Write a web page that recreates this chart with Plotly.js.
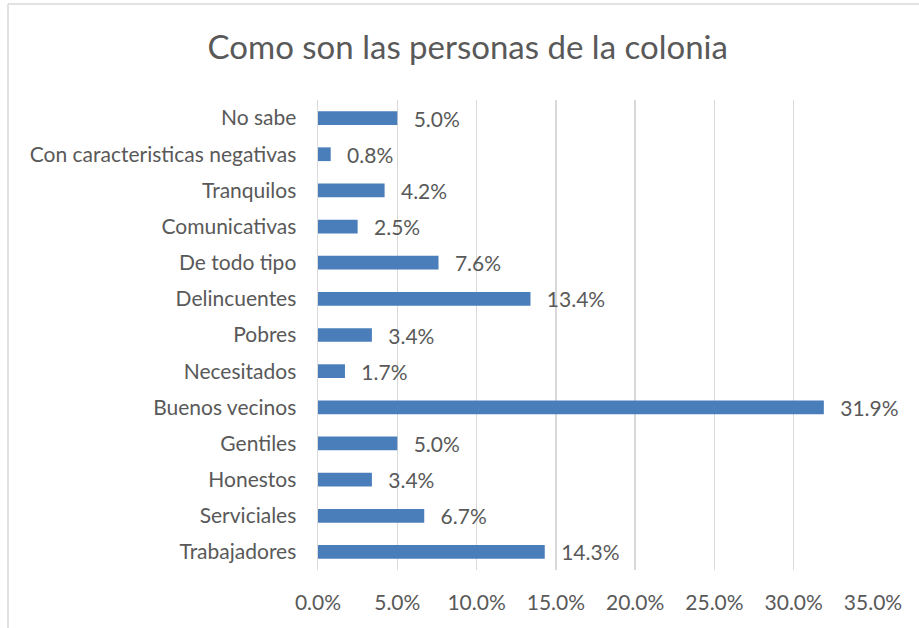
<!DOCTYPE html>
<html>
<head>
<meta charset="utf-8">
<script src="https://cdn.plot.ly/plotly-3.0.1.min.js"></script>
<style>html,body{margin:0;padding:0;background:#fff;}#chart{width:919px;height:628px;}</style>
</head>
<body>
<div id="chart"></div>
<script>
const categories = ["Trabajadores","Serviciales","Honestos","Gentiles","Buenos vecinos","Necesitados","Pobres","Delincuentes","De todo tipo","Comunicativas","Tranquilos","Con caracteristicas negativas","No sabe"];
const values = [14.3, 6.7, 3.4, 5.0, 31.9, 1.7, 3.4, 13.4, 7.6, 2.5, 4.2, 0.8, 5.0];
const tickVals = [0,5,10,15,20,25,30,35];
const tickText = tickVals.map(v => v.toFixed(1) + "%");
const labels = values.map(v => "  \u2009" + v.toFixed(1) + "%");

const font = "Lato, Open Sans, sans-serif";
const L = 318, R = 873, T = 100, B = 570;
Plotly.newPlot("chart", [{
  type: "bar",
  orientation: "h",
  y: categories,
  x: values,
  width: 0.38,
  marker: {color: "#4a7ebb"},
  text: labels,
  textposition: "outside",
  constraintext: "none",
  cliponaxis: false,
  textfont: {family: font, size: 21, color: "#595959"},
  hoverinfo: "none"
}], {
  width: 919, height: 628,
  margin: {l: L, r: 919 - R, t: T, b: 628 - B},
  paper_bgcolor: "#fff", plot_bgcolor: "#fff",
  showlegend: false,
  title: {text: "Como son las personas de la colonia", x: 0.509, xanchor: "center", y: 0.925, yanchor: "middle",
          font: {family: font, size: 33, color: "#595959"}},
  xaxis: {range: [0, 35], tickvals: tickVals, ticktext: tickText, showgrid: true, gridcolor: "#d9d9d9", gridwidth: 1.5,
          zeroline: false, showline: false, ticks: "", ticklabelstandoff: 18,
          tickfont: {family: font, size: 21, color: "#595959"}, fixedrange: true},
  yaxis: {type: "category", showgrid: false, zeroline: false, showline: true, linecolor: "#d9d9d9", linewidth: 1.5,
          ticks: "", ticklabelstandoff: 16, tickfont: {family: font, size: 21, color: "#595959"}, automargin: false},
  shapes: [
    {type: "line", xref: "paper", yref: "paper", x0: (8 - L) / (R - L), x1: (8 - L) / (R - L), y0: (B - 4) / (B - T), y1: -0.2, line: {color: "#d9d9d9", width: 1.5}},
    {type: "line", xref: "paper", yref: "paper", x0: (8 - L) / (R - L), x1: 1.2, y0: (B - 4) / (B - T), y1: (B - 4) / (B - T), line: {color: "#d9d9d9", width: 1.5}}
  ],
  bargap: 0.6
}, {staticPlot: true});
</script>
</body>
</html>
